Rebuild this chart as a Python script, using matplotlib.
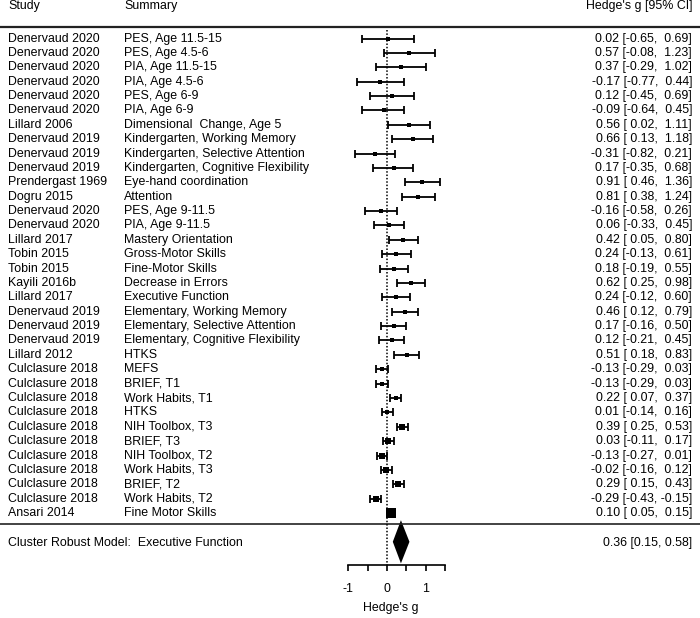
import numpy as np
import matplotlib
matplotlib.use("Agg")
import matplotlib.pyplot as plt

# study rows, top to bottom
studies = [
    "Denervaud 2020", "Denervaud 2020", "Denervaud 2020", "Denervaud 2020",
    "Denervaud 2020", "Denervaud 2020", "Lillard 2006", "Denervaud 2019",
    "Denervaud 2019", "Denervaud 2019", "Prendergast 1969", "Dogru 2015",
    "Denervaud 2020", "Denervaud 2020", "Lillard 2017", "Tobin 2015",
    "Tobin 2015", "Kayili 2016b", "Lillard 2017", "Denervaud 2019",
    "Denervaud 2019", "Denervaud 2019", "Lillard 2012", "Culclasure 2018",
    "Culclasure 2018", "Culclasure 2018", "Culclasure 2018", "Culclasure 2018",
    "Culclasure 2018", "Culclasure 2018", "Culclasure 2018", "Culclasure 2018",
    "Culclasure 2018", "Ansari 2014",
]
summaries = [
    "PES, Age 11.5-15", "PES, Age 4.5-6", "PIA, Age 11.5-15", "PIA, Age 4.5-6",
    "PES, Age 6-9", "PIA, Age 6-9", "Dimensional  Change, Age 5",
    "Kindergarten, Working Memory", "Kindergarten, Selective Attention",
    "Kindergarten, Cognitive Flexibility", "Eye-hand coordination", "Attention",
    "PES, Age 9-11.5", "PIA, Age 9-11.5", "Mastery Orientation",
    "Gross-Motor Skills", "Fine-Motor Skills", "Decrease in Errors",
    "Executive Function", "Elementary, Working Memory",
    "Elementary, Selective Attention", "Elementary, Cognitive Flexibility",
    "HTKS", "MEFS", "BRIEF, T1", "Work Habits, T1", "HTKS", "NIH Toolbox, T3",
    "BRIEF, T3", "NIH Toolbox, T2", "Work Habits, T3", "BRIEF, T2",
    "Work Habits, T2", "Fine Motor Skills",
]
est = [0.02, 0.57, 0.37, -0.17, 0.12, -0.09, 0.56, 0.66, -0.31, 0.17, 0.91, 0.81,
       -0.16, 0.06, 0.42, 0.24, 0.18, 0.62, 0.24, 0.46, 0.17, 0.12, 0.51,
       -0.13, -0.13, 0.22, 0.01, 0.39, 0.03, -0.13, -0.02, 0.29, -0.29, 0.10]
lower = [-0.65, -0.08, -0.29, -0.77, -0.45, -0.64, 0.02, 0.13, -0.82, -0.35, 0.46, 0.38,
         -0.58, -0.33, 0.05, -0.13, -0.19, 0.25, -0.12, 0.12, -0.16, -0.21, 0.18,
         -0.29, -0.29, 0.07, -0.14, 0.25, -0.11, -0.27, -0.16, 0.15, -0.43, 0.05]
upper = [0.69, 1.23, 1.02, 0.44, 0.69, 0.45, 1.11, 1.18, 0.21, 0.68, 1.36, 1.24,
         0.26, 0.45, 0.80, 0.61, 0.55, 0.98, 0.60, 0.79, 0.50, 0.45, 0.83,
         0.03, 0.03, 0.37, 0.16, 0.53, 0.17, 0.01, 0.12, 0.43, -0.15, 0.15]

# pooled model
pooled_label = "Cluster Robust Model:  Executive Function"
pooled_est, pooled_lb, pooled_ub = 0.36, 0.15, 0.58

xticks = [-1, -0.5, 0, 0.5, 1, 1.5]
xticklabels = ["-1", "", "0", "", "1", ""]

plt.rcParams["font.family"] = ["Liberation Sans", "DejaVu Sans"]
FS = 8.9

fig = plt.figure(figsize=(7.0, 6.18), dpi=100)
ax = fig.add_axes([0, 0, 1, 1])

# layout in pixels: 1 g-unit = 38.7 px, zero at x=387 px
px0, ppu = 387.0, 38.7
ax.set_xlim((0 - px0) / ppu, (700 - px0) / ppu)
ax.set_ylim(40.3, -2.68)

def gx(px):
    return (px - px0) / ppu

n = len(est)
rows = np.arange(n)
est_a = np.array(est)
lo_a = np.array(lower)
up_a = np.array(upper)

# marker size from precision (1/se), like metafor
w = 1.0 / ((up_a - lo_a) / 3.92)
msize = 2.3 + (w - w.min()) / (w.max() - w.min()) * 4.3

for i in range(n):
    ax.errorbar(est_a[i], rows[i], xerr=[[est_a[i] - lo_a[i]], [up_a[i] - est_a[i]]],
                fmt="none", ecolor="black", elinewidth=1.3, capsize=2.8, capthick=1.3)
    ax.plot(est_a[i], rows[i], marker="s", ms=msize[i], color="black", mec="black", mew=0)
    ax.text(gx(8), rows[i], studies[i], ha="left", va="center", fontsize=FS)
    ax.text(gx(124), rows[i], summaries[i], ha="left", va="center", fontsize=FS)
    ax.text(gx(692), rows[i], f"{est[i]:.2f} [{lower[i]:5.2f}, {upper[i]:5.2f}]",
            ha="right", va="center", fontsize=FS)

# header
ax.text(gx(8), -2.26, "Study", ha="left", va="center", fontsize=FS)
ax.text(gx(124), -2.26, "Summary", ha="left", va="center", fontsize=FS)
ax.text(gx(692), -2.26, "Hedge's g [95% CI]", ha="right", va="center", fontsize=FS)
ax.axhline(-0.8, color="#222222", lw=1.6)
ax.axhline(33.76, color="#222222", lw=1.2)

# zero reference line
ax.vlines(0, -0.6, 36.6, colors="black", linestyles=(0, (1, 1.2)), lw=1.1)

# pooled diamond
yp = 35.0
ax.fill([pooled_lb, pooled_est, pooled_ub, pooled_est],
        [yp, yp - 1.5, yp, yp + 1.5], color="black", lw=0)
ax.text(gx(8), 35.08, pooled_label, ha="left", va="center", fontsize=FS)
ax.text(gx(692), 35.08, f"{pooled_est:.2f} [{pooled_lb:.2f}, {pooled_ub:.2f}]",
        ha="right", va="center", fontsize=FS)

# bottom axis
for s in ["left", "right", "top"]:
    ax.spines[s].set_visible(False)
ax.spines["bottom"].set_position(("data", 36.6))
ax.spines["bottom"].set_bounds(-1, 1.5)
ax.spines["bottom"].set_linewidth(1.2)
ax.set_yticks([])
ax.set_xticks(xticks)
ax.set_xticklabels(xticklabels, fontsize=FS)
ax.tick_params(axis="x", direction="out", length=4, width=1.2, pad=9)
ax.text(0.1, 39.6, "Hedge's g", ha="center", va="center", fontsize=FS)

fig.savefig("out.png", dpi=100)
